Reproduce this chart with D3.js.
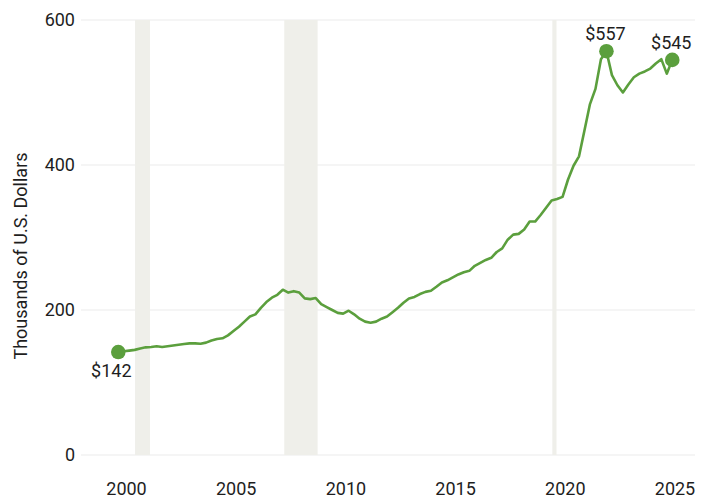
<!DOCTYPE html>
<html>
<head>
<meta charset="utf-8">
<script src="https://cdn.jsdelivr.net/npm/d3@7"></script>
<style>
  body { margin: 0; background: #fff; }
  text { font-family: Roboto, sans-serif; fill: #1e1e1e; }
</style>
</head>
<body>
<script>
// quarterly values, thousands of U.S. dollars
const values = [
  142, 143, 144, 145, 147, 148.5, 149, 150, 149, 150,
  151, 152, 153, 154, 154, 153.5, 155, 158, 160, 161,
  165, 171, 177, 184, 191, 194, 203, 211, 217, 221,
  228, 224, 226, 224, 216, 215, 216.5, 208, 204, 200,
  196, 195, 199, 194, 188, 184, 182.5, 184, 188, 191,
  197, 203, 210, 216, 218, 222, 225, 226.6, 232, 238,
  241, 245, 249, 252, 254, 261, 265, 269, 272, 280,
  285, 297, 304, 305, 311, 322, 322, 331, 341, 351,
  353, 356, 380, 399, 412, 448, 484, 505, 546, 557,
  524, 510, 500, 511, 521, 526, 529, 533, 540, 546,
  526, 545
];
const firstQuarter = 1999.625;
const years = values.map((_, i) => firstQuarter + i * 0.25);

const xTicks = [2000, 2005, 2010, 2015, 2020, 2025];
const yTicks = [0, 200, 400, 600];
// shaded recession periods (decimal years as drawn)
const recessions = [
  [2000.39, 2001.07],
  [2007.19, 2008.71],
  [2019.41, 2019.60]
];
const callouts = [
  { index: 0, label: '$142', below: true },
  { index: 89, label: '$557', below: false },
  { index: 101, label: '$545', below: false }
];

const width = 717;
const height = 502;
const green = '#5b9f3d';

const svg = d3.select('body')
  .append('svg')
  .attr('width', width)
  .attr('height', height);

const x = d3.scaleLinear().domain([2000, 2025]).range([126.5, 675]);
const y = d3.scaleLinear().domain([0, 600]).range([455, 20]);

// gridlines
svg.append('g')
  .selectAll('line')
  .data(yTicks)
  .enter()
  .append('line')
  .attr('x1', 81)
  .attr('x2', 695)
  .attr('y1', y)
  .attr('y2', y)
  .style('stroke', '#ebebeb')
  .style('stroke-width', 1.2);

// recession bands
svg.append('g')
  .selectAll('rect')
  .data(recessions)
  .enter()
  .append('rect')
  .attr('x', (d) => x(d[0]))
  .attr('width', (d) => x(d[1]) - x(d[0]))
  .attr('y', y(600))
  .attr('height', y(0) - y(600))
  .style('fill', '#efefea');

// y tick labels
svg.append('g')
  .selectAll('text')
  .data(yTicks)
  .enter()
  .append('text')
  .attr('x', 75)
  .attr('y', y)
  .attr('dy', '0.36em')
  .attr('text-anchor', 'end')
  .style('font-size', '18px')
  .text(String);

// x tick labels
svg.append('g')
  .selectAll('text')
  .data(xTicks)
  .enter()
  .append('text')
  .attr('x', x)
  .attr('y', 495)
  .attr('text-anchor', 'middle')
  .style('font-size', '18px')
  .text(String);

// axis title
svg.append('text')
  .attr('transform', 'translate(27,256) rotate(-90)')
  .attr('text-anchor', 'middle')
  .style('font-size', '18px')
  .text('Thousands of U.S. Dollars');

// the line
const line = d3.line()
  .x((d, i) => x(years[i]))
  .y((d) => y(d));

svg.append('path')
  .datum(values)
  .attr('d', line)
  .style('fill', 'none')
  .style('stroke', green)
  .style('stroke-width', 2.6)
  .style('stroke-linejoin', 'round');

// callout dots and labels
svg.append('g')
  .selectAll('circle')
  .data(callouts)
  .enter()
  .append('circle')
  .attr('cx', (d) => x(years[d.index]))
  .attr('cy', (d) => y(values[d.index]))
  .attr('r', 7.3)
  .style('fill', green);

svg.append('g')
  .selectAll('text')
  .data(callouts)
  .enter()
  .append('text')
  .attr('x', (d) => x(years[d.index]) - (d.below ? 7 : 1))
  .attr('y', (d) => y(values[d.index]) + (d.below ? 25 : -11))
  .attr('text-anchor', 'middle')
  .style('font-size', '18px')
  .text((d) => d.label);
</script>
</body>
</html>
